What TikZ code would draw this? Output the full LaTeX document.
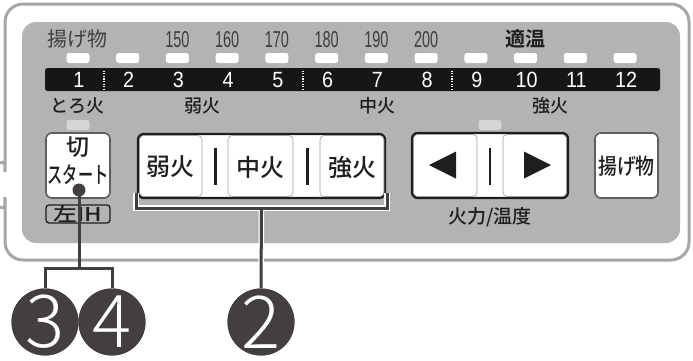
\documentclass[tikz,border=0pt]{standalone}
\usepackage{fontspec}
\usepackage{graphicx}
\setmainfont{Noto Sans CJK JP}[BoldFont={Noto Sans CJK JP Bold}]
\newfontfamily\circfont{Noto Sans CJK JP Light}
\newfontfamily\medfont{Noto Sans CJK JP Medium}
\newfontfamily\digfont{Liberation Sans}
\newcommand{\cnd}[2]{\scalebox{#1}[1]{#2}}
\definecolor{framegray}{HTML}{A6A6A6}
\definecolor{panelgray}{HTML}{B3B3B3}
\definecolor{barblack}{HTML}{161616}
\definecolor{ledoff}{HTML}{D6D6D6}
\definecolor{txtdark}{HTML}{1E1E1E}
\definecolor{txtmid}{HTML}{3E3E3E}
\definecolor{btnline}{HTML}{5E5E5E}
\definecolor{grpline}{HTML}{1E1E1E}
\definecolor{subline}{HTML}{A0A0A0}
\definecolor{callout}{HTML}{433F3E}
\tikzset{
  led/.style={rectangle, fill=white, minimum width=23pt, minimum height=10pt, rounded corners=2.5pt, inner sep=0pt},
  ledoffbox/.style={led, fill=ledoff},
  barnum/.style={text=white, inner sep=0pt, font=\digfont\fontsize{22}{22}\selectfont},
  topnum/.style={text=txtmid, inner sep=0pt, font=\digfont\fontsize{23}{23}\selectfont},
  toplbl/.style={text=txtmid, inner sep=0pt, font=\fontsize{20}{22}\selectfont},
  lbl/.style={text=txtdark, inner sep=0pt, font=\medfont\fontsize{18}{20}\selectfont},
  btn/.style={rectangle, fill=white, draw=btnline, line width=1.6pt, rounded corners=6pt, inner sep=0pt},
  grp/.style={rectangle, fill=white, draw=grpline, line width=2.4pt, rounded corners=6pt, inner sep=0pt},
  subbtn/.style={draw=subline, line width=0.6pt, rounded corners=4pt},
  btntxt/.style={text=txtdark, inner sep=0pt, font=\medfont\fontsize{24}{26}\selectfont},
  sepbar/.style={line width=3pt, draw=txtdark},
  circ/.style={circle, fill=callout, minimum size=67pt, inner sep=0pt, text=white, font=\circfont\fontsize{73}{73}\selectfont},
  coline/.style={draw=callout, line width=3pt},
  halo/.style={draw=white, line width=5.5pt},
}
\begin{document}
\begin{tikzpicture}[x=1pt,y=-1pt]
\useasboundingbox (0,0) rectangle (693,360);
% outer frame
\draw[framegray, line width=3pt, fill=white, rounded corners=18pt]
  (0,163) .. controls (4,162) and (5,160) .. (5,154) -- (5,4) -- (689,4) -- (689,260) -- (5,260) -- (5,215)
  .. controls (5,210) and (4,208) .. (0,207);
% inner panel
\fill[panelgray, rounded corners=14pt] (22,22) rectangle (680,243);
% bar
\node[rectangle, fill=barblack, minimum width=615pt, minimum height=23pt, rounded corners=2.5pt, inner sep=0pt] (bar) at (352.5,79.5) {};
\foreach \i in {1,...,12}{
  \pgfmathsetmacro\xx{78+(\i-1)*49.73}
  \node[led] (led\i) at (\xx,58) {};
  \node[barnum] (num\i) at (\xx+1,80) {\cnd{0.9}{\i}};
}
\foreach \xs in {104,303,452}{
  \draw[white, line width=1.3pt, dash pattern=on 1.3pt off 1.3pt] (\xs,70.5) -- (\xs,89);
}
% top labels
\node[toplbl] (agetop) at (77,39) {揚げ物};
\foreach \tv [count=\k from 3] in {150,160,170,180,190,200}{
  \pgfmathsetmacro\xx{78+(\k-1)*49.73}
  \node[topnum] (temp\tv) at (\xx,39.5) {\cnd{0.63}{\tv}};
}
\node[lbl, font=\bfseries\fontsize{20}{20}\selectfont] (tekion) at (525,39) {適温};
% lower labels
\node[lbl] (toro) at (77,106) {とろ火};
\node[lbl] (jaku) at (202,106) {弱火};
\node[lbl] (chu) at (377,106) {中火};
\node[lbl] (kyo) at (550,106) {強火};
% off leds
\node[ledoffbox] (ledkiri) at (78,125) {};
\node[ledoffbox] (ledarr) at (490,125) {};
% kiri button
\node[btn, minimum width=64pt, minimum height=65pt] (kiri) at (78,165.5) {};
\node[btntxt, font=\medfont\fontsize{23}{24}\selectfont] (kiritxt) at (78,147) {切};
\node[btntxt, font=\medfont\fontsize{23}{24}\selectfont] (starttxt) at (78,175) {\cnd{0.66}{スタート}};
\node[rectangle, draw=txtdark, line width=1.3pt, rounded corners=3pt, minimum width=64pt, minimum height=18pt, inner sep=0pt, text=txtdark, font=\medfont\fontsize{19}{19}\selectfont] (ih) at (78,214) {\cnd{1.25}{左IH}};
% heat group
\node[grp, minimum width=247pt, minimum height=64pt] (grp) at (261.5,166) {};
\draw[subbtn] (139.5,135.5) rectangle (202,196.5);
\draw[subbtn] (228,135.5) rectangle (293,196.5);
\draw[subbtn] (320,135.5) rectangle (384,196.5);
\node[btntxt] (bjaku) at (170.5,167) {弱火};
\node[btntxt] (bchu) at (260.5,167) {中火};
\node[btntxt] (bkyo) at (352,167) {強火};
\draw[sepbar] (215,148) -- (215,185);
\draw[sepbar] (307,148) -- (307,185);
% arrow group
\node[grp, minimum width=156pt, minimum height=65pt] (arr) at (490,165.5) {};
\draw[subbtn] (413.5,134.5) rectangle (477,196.5);
\draw[subbtn] (503,134.5) rectangle (566.5,196.5);
\fill[txtdark] (429,165) -- (456,151.5) -- (456,178.5) -- cycle;
\fill[txtdark] (524,151.5) -- (524,178.5) -- (551,165) -- cycle;
\draw[sepbar, line width=2.5pt] (490,148) -- (490,185);
\node[lbl, font=\medfont\fontsize{19}{20}\selectfont] (karyoku) at (490,217) {火力/温度};
% agemono button
\node[btn, minimum width=63pt, minimum height=65pt] (agebtn) at (626.5,165.5) {};
\node[btntxt, font=\medfont\fontsize{22}{22}\selectfont] (agetxt) at (626.5,166) {\cnd{0.86}{揚げ物}};
% callouts
\node[circ] (c3) at (45,322) {3};
\node[circ] (c4) at (112,322) {4};
\node[circ] (c2) at (261,322) {2};
\coordinate (j34) at (79,268);
\coordinate (b2) at (261.5,208);
\coordinate (bl) at (136,193);
\coordinate (br) at (387,193);
\draw[halo] (bl) |- (b2) -| (br);
\draw[halo] (b2) -- (c2.north);
\draw[coline] (bl) |- (b2) -| (br);
\draw[coline] (b2) -- (c2.north);
\node[circle, fill=callout, minimum size=13pt, inner sep=0pt] (dot) at (79,190) {};
\draw[coline] (dot.center) -- (j34);
\draw[coline] (c3.north) |- (j34) -| (c4.north);
\node[circ] at (c3) {3};
\node[circ] at (c4) {4};
\node[circ] at (c2) {2};
\end{tikzpicture}
\end{document}
